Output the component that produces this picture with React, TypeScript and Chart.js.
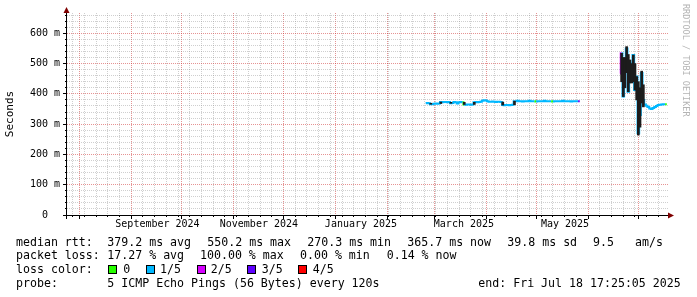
import React, { useEffect, useRef } from 'react';
import { Chart, registerables } from 'chart.js';

Chart.register(...registerables);

// ---------- data (x = days since 1 Aug 2024 00:00, y = milliseconds) ----------
const X_MIN = -7.35;
const X_MAX = 351.72; // Fri Jul 18 2025 17:25:05
const Y_MAX = 667;

const monthStartDays = [0, 31, 61, 92, 122, 153, 184, 212, 243, 273, 304, 334];
const monthLabelDays = [46.7, 107.3, 168.3, 229.8, 290.2];
const monthLabels = ['September 2024', 'November 2024', 'January 2025', 'March 2025', 'May 2025'];
const firstSunday = -4; // Sun 28 Jul 2024
const yMajorTicks = [0, 100, 200, 300, 400, 500, 600];
const yMinorStep = 20;

const lossColors = ['#26ff00', '#00b8ff', '#d500ff', '#5e00ff', '#ff0000'];
const lossLabels = ['0', '1/5', '2/5', '3/5', '4/5'];

// median rtt, first block (one value per day starting at day 207)
const seg1Start = 207;
const seg1Median = [
  369, 370, 369, 366, 366, 367, 368, 367, 368, 373,
  372, 373, 373, 372, 373, 369, 370, 373, 372, 368,
  372, 373, 372, 365, 364, 365, 365, 364, 365, 372,
  373, 372, 373, 374, 377, 379, 378, 376, 374, 374,
  375, 374, 373, 374, 374, 373, 363, 362, 363, 363,
  362, 363, 364, 376, 376, 377, 376, 376, 375, 376,
  376, 376, 377, 376, 376, 376, 375, 376, 376, 376,
  376, 377, 376, 376, 376, 376, 375, 376, 376, 376,
  376, 376, 377, 376, 376, 376, 376, 375, 376, 376,
  376, 376, 376,
];
const seg1Loss = [
  1, 1, 1, 1, 1, 1, 1, 1, 1, 1,
  1, 1, 1, 1, 1, 1, 1, 1, 1, 1,
  1, 1, 0, 1, 1, 1, 1, 1, 1, 1,
  1, 1, 1, 1, 1, 1, 1, 1, 1, 1,
  1, 1, 1, 1, 1, 1, 1, 1, 1, 1,
  1, 1, 1, 1, 1, 1, 1, 1, 1, 1,
  1, 1, 1, 1, 1, 0, 1, 1, 1, 1,
  1, 1, 1, 1, 1, 0, 1, 1, 1, 1,
  1, 1, 1, 1, 1, 1, 1, 1, 1, 1,
  1, 3, 3,
];

// median rtt, second block (one value per day starting at day 323)
const seg2Start = 323;
const seg2Median = [
  467, 534, 391, 480, 550, 407, 500, 440, 528, 413,
  457, 270, 330, 469, 380, 365, 361, 357, 352, 350,
  353, 357, 360, 363, 364, 365, 366, 366, 366,
];
const seg2Loss = [
  2, 1, 1, 1, 1, 1, 1, 1, 1, 1,
  1, 1, 1, 1, 1, 1, 1, 1, 1, 1,
  1, 1, 1, 1, 1, 1, 1, 0, 0,
];

// visible smoke (spread of the pings)
const smokeDays = [210, 216, 222, 230, 236, 253, 260, 324, 325, 326, 327, 328, 329, 330, 331, 332, 333, 334, 335, 336, 337];
const smokeLow = [366, 368, 369, 365, 365, 363, 364, 440, 391, 420, 470, 407, 436, 436, 440, 413, 380, 264, 290, 370, 357];
const smokeHigh = [369, 373, 372, 372, 372, 373, 376, 534, 520, 520, 556, 530, 512, 500, 528, 500, 457, 440, 420, 475, 430];

// ---------- styling ----------
const MONO = "'DejaVu Sans Mono', monospace";
const MGRID = 'rgba(205, 40, 40, 0.5)';
const GRID = 'rgba(140, 140, 140, 0.42)';
const AXIS = '#000000';
const ARROW = '#7f0000';

const axisPlugin = {
  id: 'rrdAxes',
  afterDatasetsDraw(chart: any) {
    const { ctx, chartArea: a } = chart;
    ctx.save();
    ctx.strokeStyle = AXIS;
    ctx.lineWidth = 1;
    ctx.beginPath();
    ctx.moveTo(a.left - 0.5, a.bottom + 4);
    ctx.lineTo(a.left - 0.5, a.top - 3);
    ctx.moveTo(a.left - 4, a.bottom + 0.5);
    ctx.lineTo(a.right + 2, a.bottom + 0.5);
    ctx.stroke();
    ctx.fillStyle = ARROW;
    ctx.beginPath();
    ctx.moveTo(a.left - 0.5, a.top - 6);
    ctx.lineTo(a.left - 3.5, a.top);
    ctx.lineTo(a.left + 2.5, a.top);
    ctx.closePath();
    ctx.fill();
    ctx.beginPath();
    ctx.moveTo(a.right + 6, a.bottom + 0.5);
    ctx.lineTo(a.right, a.bottom - 2.5);
    ctx.lineTo(a.right, a.bottom + 3.5);
    ctx.closePath();
    ctx.fill();
    ctx.restore();
  },
};

const legendLines: { y: number; items: [string, number][] }[] = [
  {
    y: 241.7,
    items: [
      ['median rtt:', 16],
      ['379.2 ms avg', 107.3],
      ['550.2 ms max', 207.3],
      ['270.3 ms min', 307.3],
      ['365.7 ms now', 407.3],
      ['39.8 ms sd', 507.3],
      ['9.5', 593],
      ['am/s', 635],
    ],
  },
  {
    y: 255,
    items: [
      ['packet loss:', 16],
      ['17.27 % avg', 107.3],
      ['100.00 % max', 200],
      ['0.00 % min', 300],
      ['0.14 % now', 386.7],
    ],
  },
  { y: 269, items: [['loss color:', 16]] },
  {
    y: 282.7,
    items: [
      ['probe:', 16],
      ['5 ICMP Echo Pings (56 Bytes) every 120s', 107.3],
      ['end: Fri Jul 18 17:25:05 2025', 478.3],
    ],
  },
];
const lossBoxX = [108.3, 145.7, 196.7, 247.3, 298.3];
const lossLabelX = [123.3, 160, 210.7, 261.7, 312.7];

export default function App() {
  const ref = useRef<HTMLCanvasElement>(null);

  useEffect(() => {
    const canvas = ref.current;
    if (!canvas) return;

    const med1 = seg1Median.map((v, i) => ({ x: seg1Start + i, y: v }));
    const med2 = seg2Median.map((v, i) => ({ x: seg2Start + i, y: v }));
    const smoke = smokeDays.map((d, i) => ({ x: d, y: [smokeLow[i], smokeHigh[i]] }));

    const weekDays: number[] = [];
    for (let d = firstSunday; d <= X_MAX; d += 7) {
      if (!monthStartDays.includes(d)) weekDays.push(d);
    }
    const yMinor: number[] = [];
    for (let v = 0; v <= Y_MAX; v += yMinorStep) {
      if (v % 100 !== 0) yMinor.push(v);
    }

    const xBase = {
      type: 'linear',
      axis: 'x',
      position: 'bottom',
      min: X_MIN,
      max: X_MAX,
      offset: false,
    };

    const chart = new Chart(canvas, {
      type: 'line',
      data: {
        datasets: [
          {
            type: 'bar',
            label: 'smoke',
            data: smoke as any,
            backgroundColor: '#1c1c1c',
            borderWidth: 0,
            barThickness: 2,
            grouped: false,
            order: 0,
            xAxisID: 'x',
            yAxisID: 'y',
          } as any,
          {
            type: 'line',
            label: 'median',
            data: med1,
            borderColor: lossColors[1],
            borderWidth: 2,
            pointRadius: 0,
            stepped: 'middle',
            segment: { borderColor: (c: any) => lossColors[seg1Loss[c.p0DataIndex]] },
            order: 1,
            xAxisID: 'x',
            yAxisID: 'y',
          } as any,
          {
            type: 'line',
            label: 'median2',
            data: med2,
            borderColor: lossColors[1],
            borderWidth: 2,
            pointRadius: 0,
            stepped: 'middle',
            segment: { borderColor: (c: any) => lossColors[seg2Loss[c.p0DataIndex]] },
            order: 1,
            xAxisID: 'x',
            yAxisID: 'y',
          } as any,
        ],
      },
      options: {
        responsive: false,
        animation: false,
        devicePixelRatio: 1,
        events: [],
        layout: { padding: { left: 0, right: 29, top: 13, bottom: 0 } },
        plugins: { legend: { display: false }, tooltip: { enabled: false } },
        scales: {
          x: {
            ...xBase,
            weight: 1,
            afterBuildTicks: (s: any) => {
              s.ticks = monthStartDays.map((v) => ({ value: v }));
            },
            afterFit: (s: any) => {
              s.height = 0;
            },
            ticks: { display: false },
            grid: { offset: false, color: MGRID, lineWidth: 1, tickLength: 4, tickColor: AXIS, tickWidth: 1 },
            border: { display: false, dash: [1, 1] },
          },
          xMinor: {
            ...xBase,
            weight: 0,
            afterBuildTicks: (s: any) => {
              s.ticks = weekDays.map((v) => ({ value: v }));
            },
            afterFit: (s: any) => {
              s.height = 0;
            },
            ticks: { display: false },
            grid: { offset: false, color: GRID, lineWidth: 1, tickLength: 2, tickColor: AXIS, tickWidth: 1 },
            border: { display: false, dash: [1, 1] },
          },
          xLabels: {
            ...xBase,
            weight: 2,
            afterBuildTicks: (s: any) => {
              s.ticks = monthLabelDays.map((v) => ({ value: v }));
            },
            afterFit: (s: any) => {
              s.height = 82;
            },
            grid: { display: false, drawTicks: false, offset: false },
            border: { display: false },
            ticks: {
              autoSkip: false,
              maxRotation: 0,
              minRotation: 0,
              padding: 3,
              color: '#000',
              font: { family: MONO, size: 10 },
              callback: (_v: any, i: number) => monthLabels[i],
            },
          },
          y: {
            type: 'linear',
            axis: 'y',
            position: 'left',
            weight: 1,
            min: 0,
            max: Y_MAX,
            afterBuildTicks: (s: any) => {
              s.ticks = yMajorTicks.map((v) => ({ value: v }));
            },
            afterFit: (s: any) => {
              s.width = 67;
            },
            ticks: {
              padding: 3,
              color: '#000',
              font: { family: MONO, size: 10 },
              callback: (v: any) => (v === 0 ? '  0  ' : `${v} m`),
            },
            grid: { color: MGRID, lineWidth: 1, tickLength: 4, tickColor: AXIS, tickWidth: 1 },
            border: { display: false, dash: [1, 1] },
            title: {
              display: true,
              text: 'Seconds',
              color: '#000',
              font: { family: MONO, size: 11 },
              padding: { top: 4, bottom: 0 },
            },
          },
          yMinor: {
            type: 'linear',
            axis: 'y',
            position: 'left',
            weight: 0,
            min: 0,
            max: Y_MAX,
            afterBuildTicks: (s: any) => {
              s.ticks = yMinor.map((v) => ({ value: v }));
            },
            afterFit: (s: any) => {
              s.width = 0;
            },
            ticks: { display: false },
            grid: { color: GRID, lineWidth: 1, tickLength: 2, tickColor: AXIS, tickWidth: 1 },
            border: { display: false, dash: [1, 1] },
          },
        },
      } as any,
      plugins: [axisPlugin],
    });

    return () => chart.destroy();
  }, []);

  const textStyle = (x: number, y: number): React.CSSProperties => ({
    position: 'absolute',
    left: x,
    top: y - 7,
    fontFamily: MONO,
    fontSize: 11.6,
    lineHeight: '14px',
    whiteSpace: 'pre',
    color: '#000',
  });

  return (
    <div style={{ position: 'absolute', left: 0, top: 0, width: 697, height: 297, background: '#fff', overflow: 'hidden' }}>
      <canvas ref={ref} width={697} height={297} style={{ position: 'absolute', left: 0, top: 0, display: 'block' }} />
      <div
        style={{
          position: 'absolute',
          left: 681,
          top: 4,
          writingMode: 'vertical-rl',
          fontFamily: MONO,
          fontSize: 8.5,
          lineHeight: '10px',
          color: '#b4b4b4',
          whiteSpace: 'pre',
        }}
      >
        RRDTOOL / TOBI OETIKER
      </div>
      {legendLines.map((ln, li) =>
        ln.items.map(([t, x], i) => (
          <div key={`${li}-${i}`} style={textStyle(x, ln.y)}>
            {t}
          </div>
        ))
      )}
      {lossLabels.map((lab, i) => (
        <React.Fragment key={lab}>
          <div
            style={{
              position: 'absolute',
              left: lossBoxX[i],
              top: 264.5,
              width: 7,
              height: 7,
              border: '1px solid #000',
              background: lossColors[i],
            }}
          />
          <div style={textStyle(lossLabelX[i], 269)}>{lab}</div>
        </React.Fragment>
      ))}
    </div>
  );
}
